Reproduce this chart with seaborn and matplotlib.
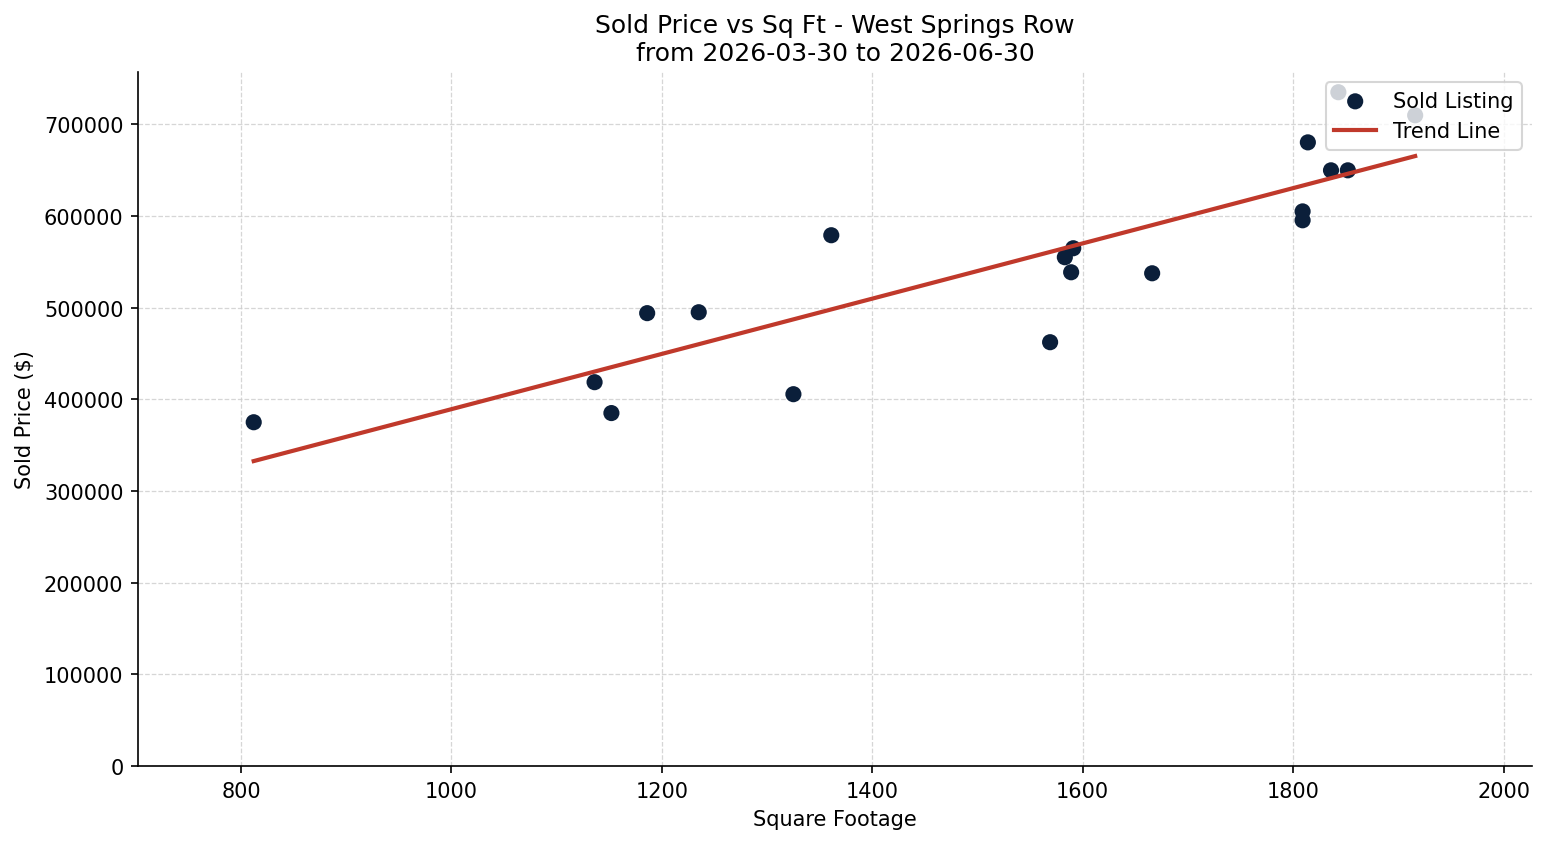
import numpy as np
import pandas as pd
import matplotlib
matplotlib.use("Agg")
import matplotlib.pyplot as plt
import seaborn as sns

# sold listings
sqft = [812, 1136, 1152, 1186, 1235, 1325, 1361, 1569, 1583, 1589, 1591,
        1666, 1809, 1809, 1814, 1836, 1852, 1843, 1916]
price = [375000, 418700, 385000, 494000, 495000, 405600, 579000, 462300,
         555000, 538600, 564800, 537500, 605000, 595300, 680300, 649800,
         649800, 735000, 709800]

df = pd.DataFrame({"sqft": sqft, "price": price})

# simple linear trend
slope, intercept = np.polyfit(df["sqft"], df["price"], 1)
xs = np.array([df["sqft"].min(), df["sqft"].max()])
trend = pd.DataFrame({"sqft": xs, "price": slope * xs + intercept})

fig = plt.figure(figsize=(10.313, 5.633), dpi=150)
ax = fig.add_axes([0.0892, 0.0923, 0.9011, 0.8213])

sns.scatterplot(data=df, x="sqft", y="price", color="#0b1f3a", s=60,
                edgecolor="none", label="Sold Listing", ax=ax)
sns.lineplot(data=trend, x="sqft", y="price", color="#c0392b", linewidth=2,
             label="Trend Line", ax=ax)

ax.set_xlim(702, 2027)
ax.set_ylim(0, 757000)
ax.grid(True, linestyle="--", linewidth=0.6, color="#cccccc", alpha=0.8)
ax.set_axisbelow(True)
sns.despine(ax=ax)

ax.ticklabel_format(style="plain", axis="y")
ax.set_xlabel("Square Footage")
ax.set_ylabel("Sold Price ($)")
ax.set_title("Sold Price vs Sq Ft - West Springs Row\nfrom 2026-03-30 to 2026-06-30")
ax.legend(loc="upper right")

fig.savefig("out.png", dpi=150)
